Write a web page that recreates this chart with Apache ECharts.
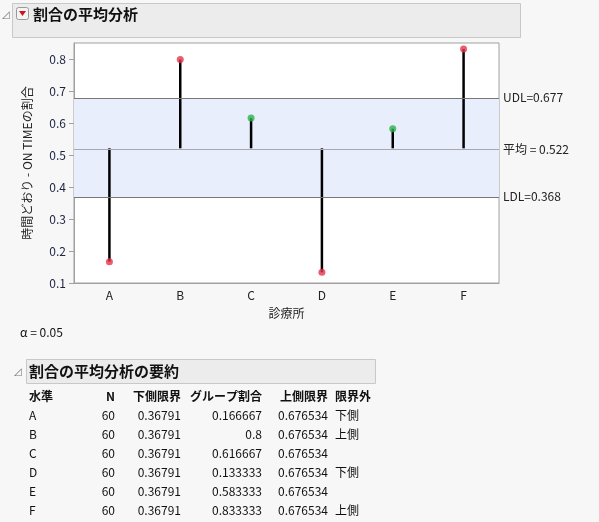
<!DOCTYPE html>
<html>
<head>
<meta charset="utf-8">
<script src="https://cdn.jsdelivr.net/npm/echarts@6/dist/echarts.min.js"></script>
<style>
  html, body { margin: 0; padding: 0; background: #f7f7f7; }
  #main { width: 599px; height: 522px; }
</style>
</head>
<body>
<div id="main"></div>
<script>
var levels = ['A', 'B', 'C', 'D', 'E', 'F']
var counts = [60, 60, 60, 60, 60, 60]
var groupRates = [0.166667, 0.8, 0.616667, 0.133333, 0.583333, 0.833333]
var rateLabels = ['0.166667', '0.8', '0.616667', '0.133333', '0.583333', '0.833333']
var outside = ['下側', '上側', '', '下側', '', '上側']
var mean = 0.522
var udl = 0.677
var ldl = 0.368

var chart = echarts.init(document.getElementById('main'))
var font = '"Noto Sans CJK JP", "DejaVu Sans", sans-serif'

// stems drawn as stacked bars: invisible base + black segment
var baseVals = groupRates.map(function (v) { return Math.min(v, mean) })
var stemVals = groupRates.map(function (v) { return Math.abs(v - mean) })
var dots = groupRates.map(function (v) {
  var out = v > udl || v < ldl
  return { value: v, itemStyle: { color: out ? '#e8344c' : '#2bb34a' } }
})

// table graphics
var graphics = []
function txt (x, y, s, align, bold) {
  graphics.push({
    type: 'text', x: x, y: y,
    style: { text: s, fill: '#111', font: (bold ? 'bold ' : '') + '12px ' + font, align: align || 'left', verticalAlign: 'middle' }
  })
}
// title bars
graphics.push({ type: 'rect', shape: { x: 12.5, y: 3.5, width: 508, height: 34 }, style: { fill: '#ececec', stroke: '#c8c8c8' } })
graphics.push({ type: 'text', x: 2, y: 14, style: { text: '◿', fill: '#777', font: '10px ' + font, verticalAlign: 'middle' } })
graphics.push({ type: 'rect', shape: { x: 16.5, y: 7.5, width: 12, height: 12, r: 2 }, style: { fill: '#f3f3f3', stroke: '#999' } })
graphics.push({ type: 'polygon', shape: { points: [[19, 11], [26, 11], [22.5, 16]] }, style: { fill: '#d0101a' } })
graphics.push({ type: 'text', x: 33, y: 14, style: { text: '割合の平均分析', fill: '#111', font: 'bold 15px ' + font, verticalAlign: 'middle' } })

graphics.push({ type: 'text', x: 20, y: 332, style: { text: 'α = 0.05', fill: '#111', font: '12px ' + font, verticalAlign: 'middle' } })

graphics.push({ type: 'rect', shape: { x: 26.5, y: 359.5, width: 349, height: 24 }, style: { fill: '#ececec', stroke: '#c8c8c8' } })
graphics.push({ type: 'text', x: 14, y: 371, style: { text: '◿', fill: '#777', font: '10px ' + font, verticalAlign: 'middle' } })
graphics.push({ type: 'text', x: 29, y: 371, style: { text: '割合の平均分析の要約', fill: '#111', font: 'bold 15px ' + font, verticalAlign: 'middle' } })

txt(29, 396, '水準', 'left', true)
txt(115, 396, 'N', 'right', true)
txt(181, 396, '下側限界', 'right', true)
txt(262, 396, 'グループ割合', 'right', true)
txt(328, 396, '上側限界', 'right', true)
txt(335, 396, '限界外', 'left', true)
levels.forEach(function (l, i) {
  var y = 415 + i * 19
  txt(29, y, l)
  txt(115, y, String(counts[i]), 'right')
  txt(181, y, '0.36791', 'right')
  txt(262, y, rateLabels[i], 'right')
  txt(328, y, '0.676534', 'right')
  txt(335, y, outside[i])
})

var options = {
  backgroundColor: '#f7f7f7',
  animation: false,
  textStyle: { fontFamily: font },
  grid: { left: 74, right: 100, top: 43, bottom: 239, backgroundColor: '#fff', show: true, borderColor: '#a0a0a0', borderWidth: 1 },
  xAxis: {
    type: 'category',
    data: levels,
    name: '診療所',
    nameLocation: 'middle',
    nameGap: 24,
    nameTextStyle: { color: '#222', fontSize: 12 },
    axisLine: { lineStyle: { color: '#a0a0a0' } },
    axisTick: { length: 5, lineStyle: { color: '#a0a0a0' } },
    axisLabel: { color: '#222', fontSize: 12, margin: 6 }
  },
  yAxis: {
    type: 'value',
    min: 0.1,
    max: 0.852,
    interval: 0.1,
    name: '時間どおり - ON TIMEの割合',
    nameLocation: 'middle',
    nameGap: 41,
    nameRotate: 90,
    nameTextStyle: { color: '#222', fontSize: 12 },
    splitLine: { show: false },
    axisLine: { show: true, lineStyle: { color: '#a0a0a0' } },
    axisTick: { show: true, length: 5, lineStyle: { color: '#a0a0a0' } },
    axisLabel: { color: '#1a2340', fontSize: 12, showMaxLabel: false, formatter: function (v) { return v.toFixed(1) } }
  },
  series: [{
    type: 'bar',
    stack: 'stem',
    data: baseVals,
    barWidth: 2.5,
    itemStyle: { color: 'transparent' },
    silent: true,
    markArea: {
      silent: true,
      itemStyle: { color: '#e8eefc' },
      data: [[{ yAxis: ldl }, { yAxis: udl }]]
    },
    markLine: {
      silent: true,
      symbol: 'none',
      label: { position: 'end', color: '#222', fontSize: 12, distance: 4 },
      data: [
        { yAxis: udl, lineStyle: { color: '#777', width: 1, type: 'solid' }, label: { formatter: 'UDL=0.677' } },
        { yAxis: mean, lineStyle: { color: '#a8a8b4', width: 1, type: 'solid' }, label: { formatter: '平均 = 0.522' } },
        { yAxis: ldl, lineStyle: { color: '#777', width: 1, type: 'solid' }, label: { formatter: 'LDL=0.368' } }
      ]
    }
  }, {
    type: 'bar',
    stack: 'stem',
    data: stemVals,
    barWidth: 2.5,
    itemStyle: { color: '#000' },
    z: 3
  }, {
    type: 'scatter',
    data: dots,
    symbolSize: 7,
    z: 4
  }],
  graphic: graphics
}

chart.setOption(options)
</script>
</body>
</html>
